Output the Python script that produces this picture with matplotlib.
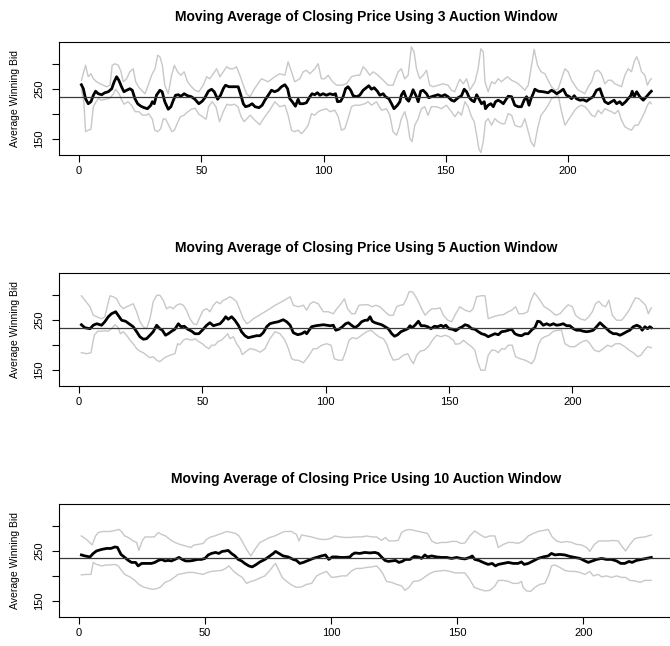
import matplotlib
matplotlib.use("Agg")
import matplotlib.pyplot as plt

plt.rcParams.update({
    "font.family": ["Liberation Sans", "DejaVu Sans"],
    "font.size": 8,
    "axes.linewidth": 0.8,
    "xtick.major.size": 5,
    "ytick.major.size": 5,
    "xtick.major.width": 0.8,
    "ytick.major.width": 0.8,
    "xtick.major.pad": 3,
    "ytick.major.pad": 5.5,
})

# =============================================================================
# Data
# =============================================================================
WINDOWS = [3, 5, 10]
N_POINTS = [234, 232, 227]
MEAN_BID = [234.6, 234.6, 235.3]
Y_LIMITS = (118.5, 344.0)
X_TICKS = [0, 50, 100, 150, 200]
Y_TICKS = [150, 200, 250, 300]
Y_TICK_LABELS = ["150", "", "250", ""]

# --- 3 auction window ---
ma3_x = [1, 1.8, 2.7, 3.8, 4.9, 5.9, 6.8, 7.9, 9.3, 10.6, 12, 13.4, 14.4, 15.4, 16.3, 17.4, 18.4, 19.5,
         20.8, 21.8, 22.9, 24, 25.3, 26.7, 28, 29.4, 30, 30.8, 31.7, 33.1, 34, 35.1, 36.5, 37.6, 38.6,
         39.5, 40.6, 41.7, 43, 44.4, 46, 47.4, 49, 50.4, 51.5, 52.9, 54.2, 55.3, 56.7, 57.9, 59, 59.9,
         61.3, 63.1, 65.1, 66.2, 67.2, 68.1, 69.5, 70.8, 72, 73.6, 74.9, 76, 77.4, 78.7, 80, 81.4, 82.8,
         84.2, 85.3, 86.2, 87.2, 88.5, 89.6, 90.3, 91.7, 93, 94.4, 95.3, 96.4, 97.5, 98.5, 99.8, 101.2,
         102.6, 103.9, 104.9, 105.7, 107, 108, 109, 110, 111.1, 112.1, 113.5, 114.8, 116.2, 117.5, 118.5,
         119.6, 120.7, 122, 123, 124.4, 125.3, 126.7, 127.8, 128.8, 130.2, 131.2, 131.8, 132.8, 133.9,
         134.8, 135.9, 136.6, 138, 138.7, 139.7, 140.7, 142.1, 143, 144.1, 145.5, 146.8, 148.2, 149.6,
         150.9, 152.3, 153.4, 155, 156.4, 157.5, 158.5, 159.4, 160.5, 161.6, 162.6, 163.5, 164.6, 165.7,
         166.2, 167.3, 168.4, 169.4, 170.3, 171.4, 172.5, 173.5, 174.4, 175.5, 176.9, 178.2, 179.6, 180.9,
         182, 183, 184, 184.8, 185.7, 186.4, 187.8, 189.8, 191.8, 193.2, 194.3, 195.3, 196.6, 198, 199.3,
         200.3, 201.4, 202.5, 203.4, 204.8, 206.2, 207.5, 208.9, 210.2, 211.6, 213, 213.9, 215, 216.4,
         217.7, 218.8, 219.8, 221.1, 222.1, 223.5, 224.5, 225.6, 226.2, 227, 228, 229.3, 230.7, 232,
         233.4, 234]
ma3_y = [259, 251, 231, 221, 225, 238, 246, 241, 239, 243, 245, 251, 265, 275, 268, 255, 245, 248,
         251, 248, 231, 221, 216, 213, 211, 218, 225, 221, 238, 248, 245, 225, 210, 215, 228,
         238, 239, 236, 241, 237, 235, 230, 221, 226, 233, 246, 250, 245, 230, 238, 251, 258,
         255, 255, 255, 238, 221, 215, 217, 221, 215, 213, 218, 228, 238, 248, 245, 248, 255,
         259, 251, 231, 225, 216, 230, 221, 221, 223, 235, 241, 239, 243, 238, 241, 238,
         241, 239, 241, 225, 226, 235, 251, 255, 248, 237, 235, 238, 248, 253, 257,
         250, 253, 246, 238, 241, 235, 231, 221, 211, 218, 225, 238, 246, 231,
         226, 239, 249, 235, 225, 246, 248, 241, 233, 235, 237, 239, 236, 239,
         235, 228, 226, 233, 237, 250, 245, 235, 228, 225, 239, 231, 221, 225,
         211, 218, 221, 215, 225, 228, 225, 221, 228, 236, 235, 218, 215, 215,
         228, 235, 218, 231, 241, 250, 246, 245, 243, 248, 245, 241, 245, 250, 238,
         236, 231, 237, 231, 228, 229, 226, 231, 235, 248, 251, 238, 225, 221,
         225, 228, 221, 225, 219, 225, 231, 237, 246, 235, 245, 235, 228, 235,
         243, 246]

up3_x = [1, 2.7, 3.8, 4.9, 5.9, 7.2, 8.6, 9.9, 11.3, 12.7, 13.6, 14.7, 16.1, 17.2, 18.1, 19.5, 20.8,
         22.2, 23.2, 24.3, 25.6, 27, 28.3, 29.7, 31.1, 32.2, 33.1, 34.1, 35.1, 36.5, 37.9, 39, 40.3,
         41.7, 43, 44.4, 46, 47.4, 49, 50.8, 52.2, 53.5, 54.9, 56.3, 57.6, 59, 60.4, 61.7, 63.1, 64.4,
         65.8, 67.2, 68.5, 69.9, 71.9, 74.6, 77.3, 80.1, 82.1, 84.2, 85.5, 86.9, 88.2, 90.3, 91.7, 93,
         94.4, 96.4, 97.8, 99.1, 100.5, 101.9, 103.2, 105.3, 107.3, 109.4, 111.4, 113.5, 114.8, 116.2,
         117.5, 118.9, 120.3, 122.3, 124.4, 126.4, 128.4, 130.5, 131.8, 133.2, 134.6, 135.9, 137, 138,
         139.3, 140.7, 142.1, 143.4, 144.8, 146.8, 148.9, 150.9, 152.3, 153.6, 155.7, 157.1, 158.5,
         159.8, 161.9, 163.2, 164.3, 165.3, 166, 167.3, 168.7, 170, 171.4, 172.8, 174.1, 175.2, 176.9,
         178.2, 179.6, 180.9, 182.3, 183.7, 184.8, 186.1, 187.5, 188.9, 190.5, 191.8, 193.2, 194.6,
         195.9, 197.3, 198.7, 200, 201.4, 202.7, 204.1, 205.5, 206.8, 208.2, 209.6, 210.9, 212.3, 213.6,
         215, 216.4, 217.7, 219.1, 220.5, 221.8, 223.2, 224.5, 225.9, 227, 228, 228.9, 230, 231.4,
         232.4, 233.4, 234]
up3_y = [268, 298, 275, 281, 271, 265, 261, 258, 255, 258, 298, 301, 298, 285, 265, 271, 285,
         291, 265, 255, 248, 241, 258, 278, 291, 318, 315, 298, 258, 241, 278, 298, 285,
         278, 285, 265, 255, 248, 245, 258, 275, 271, 281, 291, 275, 285, 295, 291, 291, 295,
         278, 258, 241, 235, 252, 271, 265, 275, 281, 278, 305, 285, 265, 271, 285, 288,
         281, 291, 301, 271, 271, 278, 268, 258, 258, 261, 275, 278, 278, 295,
         288, 278, 285, 278, 268, 258, 258, 285, 291, 271, 278, 335, 325, 291,
         271, 278, 288, 258, 255, 258, 261, 258, 248, 245, 270, 261, 271,
         248, 265, 291, 331, 325, 265, 245, 265, 261, 271, 265, 271, 275, 268,
         265, 261, 255, 248, 258, 291, 330, 298, 285, 281, 268, 255, 248,
         250, 271, 291, 285, 268, 258, 248, 245, 241, 255, 265, 285, 288, 281,
         261, 268, 268, 261, 258, 255, 278, 291, 285, 305, 315, 305, 285, 278,
         258, 268, 271]

lo3_x = [1, 2, 2.7, 3.8, 4.9, 5.9, 7, 8, 9, 11, 12.5, 14, 15, 16.5, 17.5, 18.5, 20, 21.5, 23, 24.5,
         26, 27.5, 28.5, 30, 31, 32.2, 33.4, 34.5, 35.5, 36.5, 38, 39, 40.5, 41.5, 43, 44.5, 46, 47.5,
         49, 50.5, 52, 53, 54.5, 56, 57.5, 59, 60.5, 62, 63.5, 65, 66.3, 67.5, 68.5, 70, 71.9, 73.9, 76,
         78, 80.1, 82.1, 84.2, 85.5, 86.9, 88.2, 89.6, 91, 92.3, 93.7, 95.1, 96.4, 97.8, 99.1, 101.2,
         102.6, 104.6, 106, 107.3, 108.7, 110, 111.4, 112.8, 114.8, 116.9, 118.2, 119.6, 121.6, 123.7,
         125.7, 127.1, 128.4, 129.8, 130.8, 131.8, 133.2, 134.3, 135.3, 136.2, 137.3, 138.7, 140, 141.4,
         142.7, 144.1, 146.2, 148.2, 150.2, 152.3, 153.7, 155.1, 156.4, 157.8, 159.1, 160.5, 161.6,
         162.6, 163.5, 164.3, 165.3, 166.2, 167.3, 168.7, 170, 171.4, 172.8, 174.1, 175.5, 176.9, 178.2,
         179.6, 180.9, 182.3, 183.4, 184.8, 186.1, 187.5, 188.9, 190.5, 191.8, 193.2, 194.6, 195.9,
         197.3, 198.7, 200, 201.4, 202.7, 204.1, 205.5, 206.8, 208.2, 209.6, 210.9, 212.3, 213.6, 215,
         216.4, 217.7, 219.1, 220.5, 221.8, 223.2, 224.5, 225.9, 227.3, 228.6, 230, 231.4, 232.4,
         233.4, 234]
lo3_y = [250, 225, 165, 168, 170, 215, 225, 232, 228, 230, 232, 240, 250, 240, 228, 220, 225, 218, 205, 205,
         198, 198, 201, 190, 168, 165, 171, 191, 190, 180, 165, 168, 185, 195, 198, 205, 210, 212,
         200, 195, 190, 215, 225, 215, 185, 205, 220, 218, 220, 215, 195, 185, 190, 198, 188, 179, 195,
         208, 225, 215, 218, 198, 168, 165, 168, 161, 168, 178, 201, 198, 205, 208, 211,
         205, 208, 195, 168, 171, 191, 215, 218, 218, 221, 225, 218, 225, 208,
         211, 198, 165, 158, 171, 191, 205, 185, 151, 145, 178, 191, 211, 215,
         198, 215, 215, 211, 218, 205, 195, 205, 198, 225, 215, 195, 185,
         158, 131, 123, 145, 185, 191, 178, 191, 185, 181, 181, 201, 198, 178,
         175, 175, 191, 171, 145, 135, 171, 198, 208, 218, 231, 235, 238,
         205, 178, 188, 198, 208, 215, 218, 215, 208, 198, 195, 208, 201, 211,
         208, 205, 201, 208, 188, 175, 171, 168, 178, 178, 191, 205, 218,
         225, 221]

# --- 5 auction window ---
ma5_x = [1, 2.4, 4.5, 5.8, 7.2, 9.2, 10.5, 11.9, 13.2, 14.9, 15.9, 17.3, 18.9, 20.3, 22, 23.4, 24.7,
         26.1, 27.4, 28.8, 30.1, 31.5, 32.8, 33.8, 35.1, 36.2, 37.6, 38.9, 40.3, 41.4, 42.7, 44.1, 45.7,
         47, 48.6, 50, 51.8, 53.1, 54.5, 55.8, 57.2, 58.5, 59.5, 60.5, 61.9, 63.2, 64.6, 65.9, 67.3,
         68.6, 70.3, 72, 73.4, 74.7, 76.1, 77.4, 78.8, 80.8, 82.8, 84.2, 85.6, 86.9, 88.7, 90.3, 91.6,
         92.3, 93.3, 94.3, 96, 97.7, 99.1, 100.4, 101.8, 103.1, 104.1, 105.4, 106.8, 108.1, 109.2, 110.5,
         111.9, 113.3, 114.6, 116, 117, 118, 118.9, 120, 121.4, 122.7, 124.1, 125.4, 126.8, 127.9, 129.2,
         130.5, 131.9, 133.3, 134.2, 135.1, 136.2, 137.6, 138.7, 140, 141.4, 142.7, 144.1, 145.4, 146.8,
         147.7, 148.7, 150, 151.4, 152.7, 154.1, 155.4, 156.5, 157.8, 159.2, 160.5, 161.9, 163.2, 164.6,
         165.9, 167.3, 168.6, 170, 171.3, 172.7, 174, 175.4, 176.7, 178.1, 179.4, 180.8, 182.1, 183.8,
         184.8, 185.9, 186.9, 188.2, 189.6, 190.9, 192.3, 193.6, 195, 196.3, 197.7, 199, 200.4, 201.7,
         203.1, 204.4, 205.8, 207.1, 208.5, 209.8, 211.2, 212.5, 213.9, 215.2, 216.6, 217.9, 219.3,
         220.6, 222, 223.3, 224.7, 226.1, 227.4, 228.3, 229.4, 230.5, 231.4, 232]
ma5_y = [241, 235, 233, 240, 243, 240, 247, 257, 263, 267, 260, 250, 248, 243, 237, 227, 217,
         212, 213, 220, 227, 240, 233, 230, 220, 223, 228, 232, 243, 237, 238, 232, 228,
         223, 223, 230, 240, 245, 239, 241, 243, 250, 257, 252, 257, 250, 240, 227, 219,
         215, 217, 219, 219, 225, 237, 243, 245, 247, 251, 247, 240, 225, 221, 223, 227,
         223, 230, 237, 239, 240, 241, 240, 239, 240, 230, 232, 237, 243, 245, 240,
         235, 240, 247, 250, 250, 257, 248, 245, 243, 241, 237, 233, 223, 218, 221,
         227, 230, 233, 239, 235, 240, 248, 239, 239, 237, 233, 238, 237, 240,
         237, 240, 233, 232, 229, 234, 237, 241, 239, 233, 232, 227, 223, 221,
         217, 220, 223, 221, 227, 228, 230, 232, 223, 220, 219, 223, 223, 232,
         235, 248, 247, 240, 243, 240, 243, 240, 241, 243, 239, 239, 233, 230,
         230, 228, 227, 228, 230, 237, 245, 239, 233, 227, 223, 223, 220,
         223, 227, 230, 237, 240, 237, 230, 237, 233, 237, 235]

up5_x = [1, 2.4, 4.5, 5.8, 7.2, 9.2, 10.5, 11.6, 12.6, 13.9, 15.3, 16.6, 18, 19.3, 20.7, 22, 23.4,
         24.7, 26.1, 27.4, 28.8, 30.1, 31.5, 32.8, 34.2, 35.5, 36.9, 38.2, 39.6, 40.9, 42.3, 43.6, 45,
         46.4, 47.7, 49.1, 50.4, 51.8, 53.1, 54.5, 55.8, 57.2, 58.5, 59.9, 61.2, 62.6, 63.9, 65.3, 66.6,
         68, 69.3, 70.7, 72.7, 74.7, 77.4, 79.5, 82.2, 84.2, 85.6, 86.9, 88.9, 91, 92.3, 93.7, 95, 97,
         99.1, 101.1, 103.1, 104.5, 106.2, 107.6, 108.9, 110.5, 111.9, 113.5, 115.3, 117.3, 118.9, 120.3,
         122, 124.1, 125.7, 127.4, 128.8, 130.1, 131.5, 132.8, 133.8, 135.1, 136.2, 137.6, 138.9, 140.3,
         141.6, 143, 145, 146.4, 147.7, 149.5, 151.1, 152.4, 154.4, 156.5, 158.5, 159.8, 161.2, 162.9,
         164.6, 165.9, 167.9, 170, 172, 174, 175.4, 177, 178.3, 180.1, 181.9, 183.2, 184.6, 185.9, 187.3,
         188.6, 190, 191.6, 193.2, 195, 196.7, 198.3, 200, 201.3, 203.1, 205.1, 206.7, 208.1, 209.4,
         210.8, 212.1, 213.5, 214.8, 216.2, 217.9, 220, 221.6, 223, 224.3, 225.6, 227, 228.3, 229.7,
         230.8, 232]
up5_y = [299, 290, 277, 260, 257, 253, 257, 280, 299, 297, 293, 280, 273, 277, 280, 283, 267,
         247, 237, 233, 253, 287, 300, 300, 290, 273, 277, 273, 280, 283, 280, 270, 253,
         243, 241, 257, 270, 273, 267, 280, 287, 283, 290, 293, 297, 293, 287, 270, 253,
         243, 247, 253, 259, 265, 273, 280, 287, 293, 297, 280, 277, 280, 270, 283, 287, 283,
         267, 267, 263, 273, 283, 293, 273, 263, 263, 280, 281, 281, 277, 280,
         277, 267, 260, 260, 277, 280, 281, 293, 307, 307, 300, 287, 273, 260,
         267, 273, 273, 275, 260, 250, 247, 260, 277, 270, 267, 273, 297, 299,
         299, 253, 257, 260, 261, 267, 270, 277, 263, 263, 267, 290, 305, 297, 287,
         277, 273, 267, 260, 263, 273, 281, 277, 260, 253, 250, 257, 267, 283,
         288, 280, 277, 290, 260, 250, 250, 260, 270, 283, 295, 293, 287, 280,
         263, 275]

lo5_x = [1, 3.1, 4.9, 6.2, 7.6, 9.2, 10.5, 11.9, 13.2, 14.6, 15.7, 16.8, 18, 19.3, 20.7, 22, 23.4,
         24.7, 26.1, 27.4, 28.8, 30.1, 31.5, 32.8, 34.2, 35.5, 36.9, 38.9, 40, 40.9, 42.3, 43.6, 45.7,
         47, 48.6, 50, 51.4, 52.7, 53.8, 55.1, 56.5, 57.8, 59.2, 60.3, 61.2, 62.6, 63.9, 65.3, 66.2,
         67.6, 69.3, 71.4, 73.4, 75.4, 77.4, 79.5, 81.5, 83.5, 84.9, 86.2, 87.6, 88.9, 91, 92.3, 93.7,
         95, 96.4, 98.4, 100.4, 102.2, 103.5, 105.1, 106.8, 108.1, 109.5, 110.8, 112.6, 114.6, 116.6,
         118.4, 120, 121.6, 123.4, 124.7, 126.1, 127.4, 129.5, 131.5, 133.3, 134.6, 135.6, 136.9, 138.3,
         140, 141.6, 143.3, 145, 146.8, 148.4, 150, 151.8, 152.6, 154.4, 155.8, 157.5, 159.2, 160.5,
         161.6, 162.9, 164.6, 165.9, 167.3, 168.6, 170, 171.3, 172.7, 174, 175.6, 177, 178.8, 180.8,
         182.1, 183.5, 184.8, 186.2, 187.5, 188.9, 190.5, 192.3, 194.3, 195.6, 197, 199, 201, 202.7,
         204, 205.8, 207.1, 208.9, 210.8, 212.5, 214.3, 215.9, 217.5, 219.3, 221.3, 223, 224.7, 226.5,
         227.8, 229.2, 230.5, 232]
lo5_y = [185, 183, 185, 220, 228, 228, 229, 228, 233, 241, 237, 223, 227, 220, 210, 203, 193,
         188, 185, 180, 175, 177, 170, 167, 173, 177, 180, 183, 203, 201, 210, 213, 210,
         213, 207, 203, 197, 193, 200, 200, 208, 210, 217, 223, 213, 217, 203, 193, 181,
         187, 193, 191, 186, 193, 213, 227, 223, 210, 193, 173, 170, 170, 165, 173, 183,
         193, 193, 200, 203, 200, 173, 170, 170, 187, 210, 215, 213, 220, 227,
         230, 223, 217, 213, 203, 183, 170, 172, 180, 183, 170, 163, 180, 188,
         190, 197, 210, 220, 217, 220, 217, 210, 202, 203, 210, 203, 197, 190,
         167, 150, 150, 180, 190, 190, 185, 193, 192, 200, 200, 177, 173, 170,
         167, 163, 173, 200, 213, 217, 220, 228, 230, 230, 203, 197, 197, 203,
         207, 210, 203, 190, 187, 193, 200, 197, 203, 203, 197, 190, 185, 177,
         180, 190, 197, 195]

# --- 10 auction window ---
ma10_x = [1, 2.4, 4.4, 5.7, 7, 9, 11, 12.7, 14.3, 15.3, 16.7, 18.2, 19.6, 20.9, 22.5, 23.5, 24.9,
          26.8, 28.8, 30.1, 31.5, 32.8, 34.1, 35.4, 36.7, 38.1, 39.7, 41, 42.3, 44, 45.3, 47.1, 48.6,
          50, 51.3, 52.6, 54.2, 55.5, 56.8, 58.2, 59.2, 60.5, 61.9, 63.2, 64.5, 65.8, 67.4, 68.7, 70.1,
          71.8, 73.8, 75.7, 77.1, 78, 79.3, 81, 83, 85, 86.3, 87.6, 89, 91, 92.9, 94.9, 96.2, 97.8, 99.1,
          100.5, 102.2, 103.9, 105.5, 107.5, 108.4, 109.5, 111.4, 113.4, 115.4, 117.4, 118.7, 120, 121.4,
          122.7, 124.3, 125.6, 126.9, 128.2, 129.5, 131.3, 133, 134.6, 135.9, 137.2, 138.3, 139.9, 141.8,
          143.8, 145.8, 147.8, 149.8, 151.5, 153.1, 155, 156, 157, 158.6, 160.3, 162.3, 163.9, 165.2,
          166.3, 168.3, 170.3, 172.2, 174.2, 175.5, 176.6, 178.2, 180.2, 182.1, 184.1, 186.1, 187.4,
          188.8, 190.7, 192.7, 194.7, 196.7, 198.7, 200.7, 202, 203.6, 205.3, 207.3, 209.2, 211.2, 213.2,
          214.9, 216.5, 218.1, 219.4, 221.1, 223.1, 225.1, 227]
ma10_y = [242, 240, 238, 245, 250, 253, 255, 255, 258, 257, 243, 237, 231, 227, 227, 220, 225,
          225, 225, 227, 231, 233, 230, 231, 230, 233, 237, 233, 230, 230, 231, 233, 233,
          235, 242, 245, 247, 245, 249, 250, 251, 245, 240, 233, 230, 225, 220, 218, 222,
          228, 233, 240, 245, 249, 245, 240, 238, 233, 231, 225, 227, 231, 235, 238, 240, 242, 233,
          238, 238, 237, 237, 238, 243, 246, 245, 247, 246, 247, 245, 238, 231,
          229, 230, 231, 227, 229, 233, 233, 239, 238, 235, 242, 238, 240, 238,
          237, 237, 235, 237, 235, 234, 237, 240, 233, 231, 227, 223, 225, 220,
          223, 225, 227, 225, 225, 228, 223, 225, 230, 235, 238, 240, 245,
          242, 243, 242, 239, 237, 235, 230, 227, 230, 233, 235, 233, 233, 230,
          225, 225, 229, 227, 231, 233, 235, 237]

up10_x = [1, 3, 5.3, 6.6, 7.7, 9.6, 12.3, 14.3, 15.9, 16.9, 18.2, 19.6, 21.5, 22.9, 23.8, 25.1, 26.2,
          28.2, 29.9, 31.5, 32.8, 34.4, 36.1, 38.1, 40.1, 42.3, 44.4, 45.7, 47.3, 49.3, 50.6, 52.3, 53.9,
          55.3, 56.6, 58.6, 60.5, 62.1, 63.5, 64.8, 66.5, 68.2, 69.8, 71.8, 73.8, 75.7, 77.7, 79.7, 81.7,
          84.3, 86.3, 87.3, 88.3, 90.3, 92.3, 94.3, 96.2, 98.2, 99.9, 101.5, 103.5, 105.5, 107.5, 109.5,
          112.1, 114.1, 116.1, 118.1, 120, 121.6, 122.9, 124.7, 126.6, 128, 129.3, 131.3, 133, 134.8,
          136.6, 138.3, 139.9, 141.8, 143.8, 145.8, 147.8, 149.8, 151.5, 153.1, 155, 157, 159, 161, 163,
          165, 166.3, 168.3, 170.3, 172.2, 174.2, 176.2, 178.2, 180.2, 182.1, 184.1, 186.1, 187.7, 189.4,
          191.4, 193.4, 195.4, 197.4, 199.3, 201.3, 202.6, 204.4, 206.2, 207.9, 209.9, 211.9, 213.9,
          215.2, 216.8, 218.5, 220.5, 222.5, 224.4, 227]
up10_y = [280, 273, 262, 280, 287, 289, 289, 291, 293, 289, 280, 277, 270, 267, 251, 270, 278,
          278, 278, 287, 283, 280, 273, 267, 263, 260, 257, 262, 263, 265, 273, 278, 280,
          283, 285, 289, 287, 285, 280, 269, 253, 240, 253, 267, 272, 277, 280, 285, 289,
          289, 283, 270, 282, 280, 278, 275, 273, 273, 275, 280, 278, 277, 277, 278,
          278, 280, 278, 278, 271, 277, 270, 270, 271, 287, 291, 293, 291, 289,
          287, 285, 270, 265, 267, 267, 269, 269, 265, 266, 280, 290, 283, 277, 280,
          280, 257, 263, 267, 267, 265, 270, 280, 285, 289, 291, 293, 278, 270,
          267, 269, 267, 263, 262, 257, 249, 263, 270, 270, 270, 271, 270,
          260, 250, 263, 275, 277, 278, 282]

lo10_x = [1, 3, 4.8, 5.7, 7, 9, 11, 12.7, 14.3, 15.6, 16.9, 18.2, 20.2, 22.2, 23.8, 25.5, 27.5, 29.5,
          31.2, 32.5, 34.1, 36.1, 37.8, 39.4, 41.4, 43.4, 45.3, 47.3, 49.3, 51, 52.6, 54.6, 56.6, 58.2,
          59.5, 61.2, 62.9, 64.8, 66.5, 68.2, 69.8, 71.8, 73.8, 75.7, 77.1, 78, 79.3, 80.6, 82.4, 84.3,
          86.3, 88.3, 90.3, 92.3, 94.3, 96.2, 98.2, 100.2, 102.2, 104.2, 106.2, 108.1, 110.1, 112.1,
          114.1, 116.1, 118.1, 119.4, 120.7, 122, 124, 126, 128, 129.3, 130.9, 132.6, 134.6, 135.9,
          137.2, 139.2, 141.2, 143.2, 145.1, 147.1, 149.1, 151.1, 153.1, 155, 156.8, 159, 161, 163, 165,
          166.3, 168.3, 170.3, 172.2, 174.2, 175.5, 176.2, 177.5, 179.2, 180.8, 182.8, 184.8, 186.4,
          187.4, 188.8, 190.7, 192.7, 194.7, 196.7, 198.7, 200.7, 202.6, 204, 206, 207.3, 209.2, 211.2,
          213.2, 215.2, 216.8, 218.5, 220.5, 222.5, 224.4, 227]
lo10_y = [202, 203, 203, 227, 223, 220, 222, 222, 223, 220, 211, 203, 198, 191, 183, 178, 175, 173,
          175, 178, 187, 191, 197, 203, 205, 207, 207, 205, 203, 207, 209, 210, 211, 215,
          220, 210, 203, 197, 185, 189, 191, 196, 200, 211, 220, 225, 211, 197, 189, 182,
          177, 178, 183, 185, 200, 205, 209, 197, 198, 200, 200, 210, 215, 215,
          217, 218, 220, 213, 203, 189, 187, 183, 180, 171, 177, 189, 190, 193,
          198, 205, 209, 210, 211, 209, 206, 206, 206, 193, 177, 173, 170, 171, 180,
          191, 191, 189, 185, 185, 189, 177, 170, 169, 177, 183, 185, 203,
          220, 222, 217, 211, 209, 209, 207, 203, 209, 200, 203, 198, 200, 197,
          200, 197, 197, 191, 190, 187, 191, 191]

PANELS = [
    (ma3_x, ma3_y, up3_x, up3_y, lo3_x, lo3_y),
    (ma5_x, ma5_y, up5_x, up5_y, lo5_x, lo5_y),
    (ma10_x, ma10_y, up10_x, up10_y, lo10_x, lo10_y),
]

# =============================================================================
# Figure: three stacked panels, right edge of each box runs off the canvas
# =============================================================================
fig = plt.figure(figsize=(6.7, 6.46), dpi=100)
W, H = 670.0, 646.0
AX_LEFT = 58.6
AX_WIDTH = 615.5
AX_TOPS = [42.3, 273.3, 504.0]
AX_HEIGHT = 112.6

for k in range(3):
    ma_x, ma_y, up_x, up_y, lo_x, lo_y = PANELS[k]
    n = N_POINTS[k]
    top = AX_TOPS[k]
    ax = fig.add_axes([AX_LEFT / W, 1 - (top + AX_HEIGHT) / H, AX_WIDTH / W, AX_HEIGHT / H])

    ax.plot(up_x, up_y, color="#c8c8c8", lw=1.0)
    ax.plot(lo_x, lo_y, color="#c8c8c8", lw=1.0)
    ax.plot(ma_x, ma_y, color="black", lw=2.0)
    ax.axhline(MEAN_BID[k], color="#3a3a3a", lw=0.9)

    pad = 0.04 * (n - 1)
    ax.set_xlim(1 - pad, n + pad)
    ax.set_ylim(*Y_LIMITS)
    ax.set_xticks(X_TICKS)
    ax.set_yticks(Y_TICKS)
    ax.set_yticklabels(Y_TICK_LABELS, rotation=90, va="center")

    fig.text((AX_LEFT + AX_WIDTH / 2) / W, 1 - (top - 25.5) / H,
             f"Moving Average of Closing Price Using {WINDOWS[k]} Auction Window",
             ha="center", va="center", fontsize=10, fontweight="bold")
    fig.text(15 / W, 1 - (top + AX_HEIGHT / 2) / H, "Average Winning Bid",
             rotation=90, ha="center", va="center", fontsize=7.5)

fig.savefig("out.png", dpi=100)
